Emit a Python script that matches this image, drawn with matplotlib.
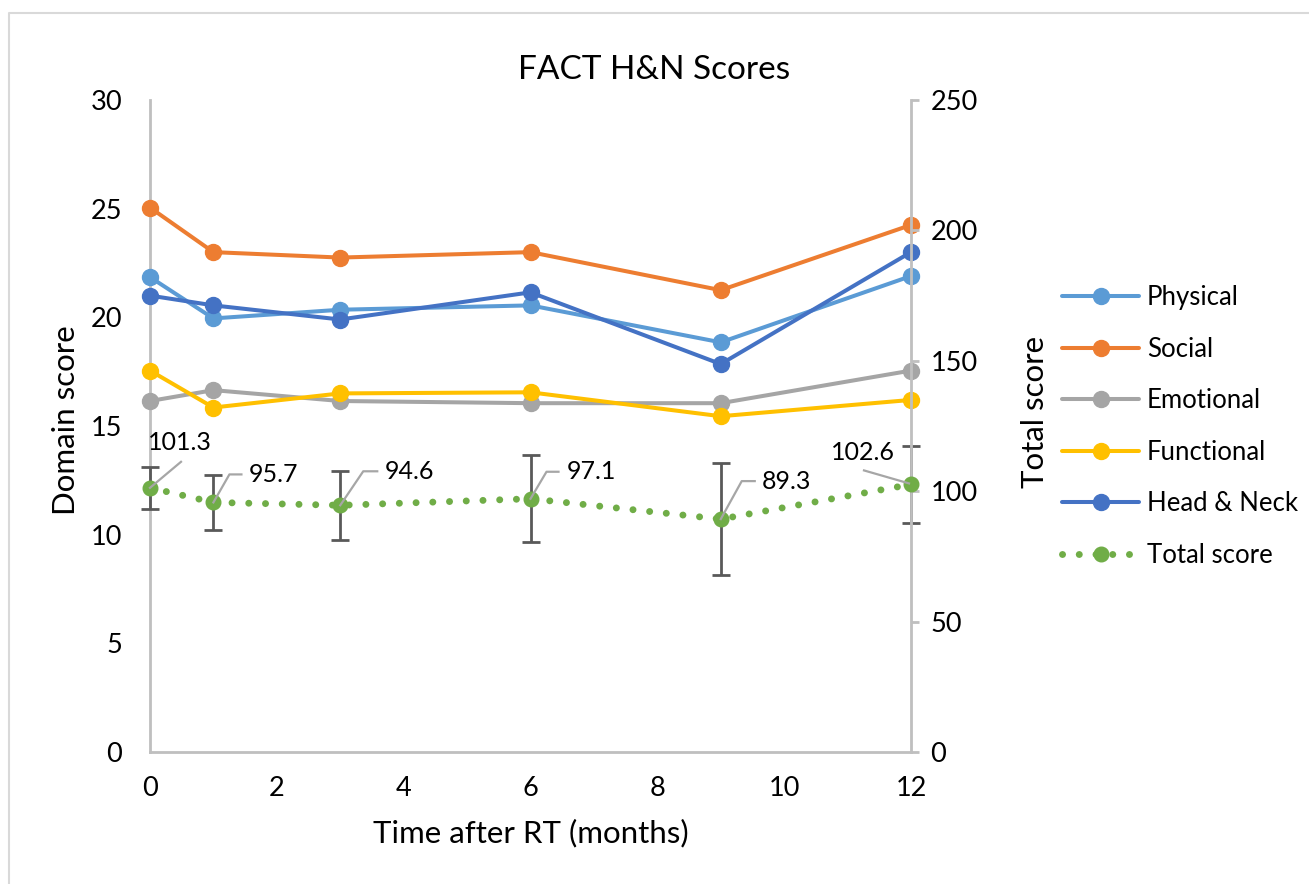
import matplotlib
matplotlib.use("Agg")
import matplotlib.pyplot as plt
from matplotlib.lines import Line2D
from matplotlib.transforms import IdentityTransform

plt.rcParams['font.family'] = ['Lato', 'DejaVu Sans']

months = [0, 1, 3, 6, 9, 12]
physical = [21.85, 19.95, 20.35, 20.55, 18.85, 21.9]
social = [25.05, 23.0, 22.75, 23.0, 21.25, 24.25]
emotional = [16.15, 16.65, 16.15, 16.05, 16.05, 17.55]
functional = [17.55, 15.85, 16.5, 16.55, 15.45, 16.2]
head_neck = [21.0, 20.55, 19.9, 21.15, 17.85, 23.0]
total = [101.3, 95.7, 94.6, 97.1, 89.3, 102.6]
total_err = [8.0, 10.7, 13.3, 16.6, 21.5, 14.8]
total_labels = ["101.3", "95.7", "94.6", "97.1", "89.3", "102.6"]

series = [
    ("Physical", physical, "#5B9BD5"),
    ("Social", social, "#ED7D31"),
    ("Emotional", emotional, "#A5A5A5"),
    ("Functional", functional, "#FFC000"),
    ("Head & Neck", head_neck, "#4472C4"),
]
green = "#70AD47"
spine_c = "#BFBFBF"

W, H = 1309, 884
fig = plt.figure(figsize=(W / 100, H / 100), dpi=100)
ax = fig.add_axes([150 / W, 1 - 752 / H, (911 - 150) / W, (752 - 100) / H])
ax2 = ax.twinx()

handles = []
for name, vals, col in series:
    h, = ax.plot(months, vals, color=col, lw=2.9, marker='o', ms=11.5,
                 label=name, solid_capstyle='round', zorder=3, clip_on=False)
    handles.append(h)

ax.set_xlim(0, 12)
ax.set_ylim(0, 30)
ax2.set_ylim(0, 250)
ax.set_xticks(range(0, 13, 2))
ax.set_yticks(range(0, 31, 5))
ax2.set_yticks(range(0, 251, 50))

eb = ax2.errorbar(months, total, yerr=total_err, fmt='none', ecolor='#595959',
                  elinewidth=2.0, capsize=6.5, capthick=2.0, zorder=2)
for art in eb.lines[1] + eb.lines[2]:
    art.set_clip_on(False)
ht, = ax2.plot(months, total, color=green, lw=5.0, ls=(0, (0.01, 2.4)),
               dash_capstyle='round', marker='o', ms=10.5, label='Total score',
               zorder=4, clip_on=False)
handles.append(ht)

for a in (ax, ax2):
    for s in a.spines.values():
        s.set_visible(False)
ax.spines['left'].set_visible(True)
ax.spines['bottom'].set_visible(True)
ax2.spines['right'].set_visible(True)
for s in (ax.spines['left'], ax.spines['bottom'], ax2.spines['right']):
    s.set_color(spine_c)
    s.set_linewidth(2.0)

fs = 19.5
ax.tick_params(axis='y', length=0, pad=20, labelsize=fs)
ax.tick_params(axis='x', length=0, pad=17, labelsize=fs)
ax2.tick_params(axis='y', length=6, width=2, color=spine_c, pad=8, labelsize=fs)

fig.text(654 / W, 1 - 70 / H, "FACT H&N Scores", ha='center', va='center', fontsize=24)
fig.text(66 / W, 1 - 420 / H, "Domain score", rotation=90, ha='center', va='center', fontsize=22.5)
fig.text(1035 / W, 1 - 412 / H, "Total score", rotation=90, ha='center', va='center', fontsize=22.5)
fig.text(531 / W, 1 - 833 / H, "Time after RT (months)", ha='center', va='center', fontsize=22.5)

# data labels with leader lines (offsets in pixels)
leaders = [
    [(0, 0), (31, 26)],
    [(0, 0), (16, 28), (28, 28)],
    [(0, 0), (23, 34), (37, 34)],
    [(0, 0), (16, 27), (28, 27)],
    [(0, 0), (21, 38), (34, 38)],
    [(-2, 1), (-47, 14)],
]
label_pos = [(30, 45, 'center'), (35, 28, 'left'), (44, 34, 'left'), (36, 27, 'left'),
             (41, 38, 'left'), (-48, 32, 'center')]
fig.canvas.draw()
for i, (m, t) in enumerate(zip(months, total)):
    px, py = ax2.transData.transform((m, t))
    xs = [px + dx for dx, dy in leaders[i]]
    ys = [py + dy for dx, dy in leaders[i]]
    fig.add_artist(Line2D(xs, ys, transform=IdentityTransform(), color='#A6A6A6', lw=1.6, zorder=5))
    dx, dy, ha = label_pos[i]
    ax2.annotate(total_labels[i], (m, t), xytext=(dx, dy), textcoords='offset pixels',
                 ha=ha, va='center', fontsize=18, zorder=6)

leg = fig.legend(handles=handles, loc='upper left', bbox_to_anchor=(1052 / W, 1 - 275 / H),
                 frameon=False, fontsize=18.5, handlelength=3.0, handletextpad=0.3,
                 labelspacing=1.03, borderaxespad=0)

# chart border
fig.add_artist(Line2D([9 / W, 9 / W, 1.0], [0.0, 1 - 13 / H, 1 - 13 / H],
                      transform=fig.transFigure, color='#D9D9D9', lw=1.5))

fig.savefig("out.png", dpi=100)
